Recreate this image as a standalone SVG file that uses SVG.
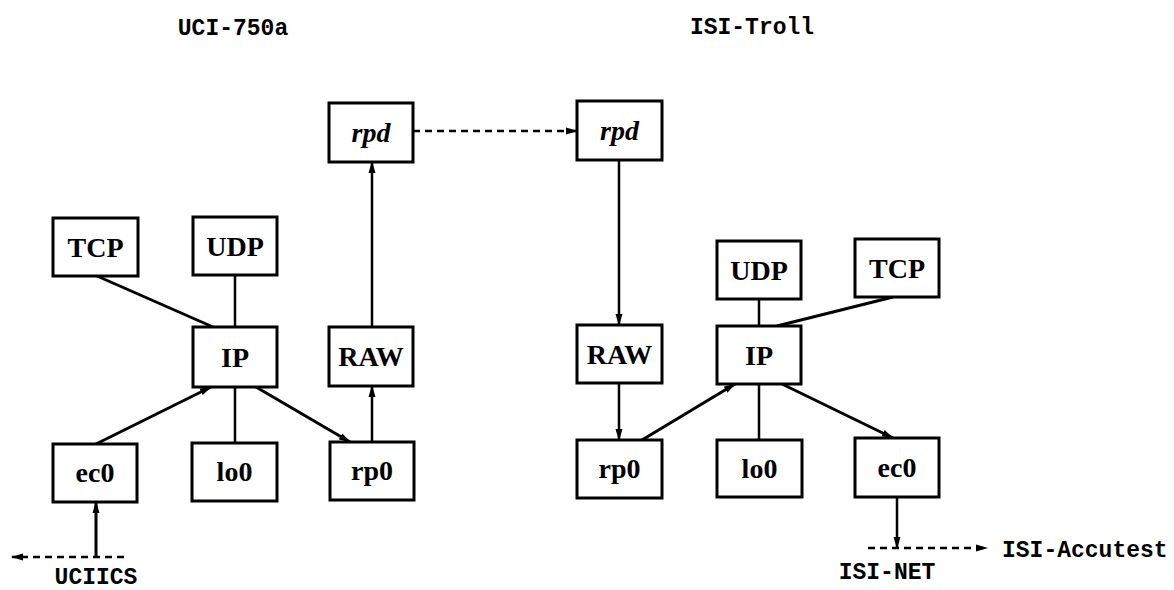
<svg xmlns="http://www.w3.org/2000/svg" width="1174" height="590" viewBox="0 0 1174 590">
<style>
.box{fill:#fff;stroke:#000;stroke-width:3}
.lbl{font-family:"Liberation Serif",serif;font-weight:bold;font-size:28px;text-anchor:middle;fill:#000}
.it{font-style:italic}
.mono{font-family:"Liberation Mono",monospace;font-weight:bold;font-size:23px;fill:#000}
.ln{stroke:#000;stroke-width:2.5;fill:none}
.th{stroke-width:3}
.dash{stroke-dasharray:7 5}
</style>
<defs>
<marker id="ah" markerUnits="userSpaceOnUse" markerWidth="12" markerHeight="8" refX="11" refY="4" orient="auto">
<path d="M0,0.5 L12,4 L0,7.5 z" fill="#000"/>
</marker>
</defs>
<rect width="1174" height="590" fill="#fff"/>
<g id="titles">
<text class="mono" x="233" y="35" text-anchor="middle">UCI-750a</text>
<text class="mono" x="752" y="34" text-anchor="middle">ISI-Troll</text>
<text class="mono" x="96" y="584" text-anchor="middle">UCIICS</text>
<text class="mono" x="887" y="579" text-anchor="middle">ISI-NET</text>
<text class="mono" x="1002" y="557">ISI-Accutest</text>
</g>
<g id="connectors">
<line class="ln dash" x1="413" y1="131" x2="577" y2="131" marker-end="url(#ah)"/>
<line class="ln" x1="372" y1="327" x2="372" y2="162" marker-end="url(#ah)"/>
<line class="ln" x1="372" y1="442" x2="372" y2="386" marker-end="url(#ah)"/>
<line class="ln th" x1="256" y1="387" x2="350" y2="442" marker-end="url(#ah)"/>
<line class="ln th" x1="96" y1="444" x2="211" y2="387" marker-end="url(#ah)"/>
<line class="ln" x1="235" y1="443" x2="235" y2="387"/>
<line class="ln" x1="235" y1="275" x2="235" y2="327"/>
<line class="ln th" x1="97" y1="276" x2="213" y2="327"/>
<line class="ln th" x1="96" y1="557" x2="96" y2="502" marker-end="url(#ah)"/>
<line class="ln dash" x1="124" y1="557" x2="12" y2="557" marker-end="url(#ah)"/>
<line class="ln" x1="619" y1="160" x2="619" y2="325" marker-end="url(#ah)"/>
<line class="ln" x1="619" y1="383" x2="619" y2="440" marker-end="url(#ah)"/>
<line class="ln th" x1="642" y1="440" x2="735" y2="384" marker-end="url(#ah)"/>
<line class="ln th" x1="782" y1="384" x2="893" y2="438" marker-end="url(#ah)"/>
<line class="ln" x1="759" y1="440" x2="759" y2="384"/>
<line class="ln" x1="759" y1="299" x2="759" y2="326"/>
<line class="ln th" x1="893" y1="297" x2="777" y2="326"/>
<line class="ln" x1="897" y1="497" x2="897" y2="548" marker-end="url(#ah)"/>
<line class="ln dash" x1="868" y1="548" x2="987" y2="548" marker-end="url(#ah)"/>
</g>
<g id="rpd-left"><rect class="box" x="329" y="103" width="84" height="59"/><text class="lbl it" x="371" y="142">rpd</text></g>
<g id="tcp-left"><rect class="box" x="53" y="218" width="85" height="58"/><text class="lbl" x="95.5" y="257">TCP</text></g>
<g id="udp-left"><rect class="box" x="193" y="217" width="84" height="58"/><text class="lbl" x="235" y="256">UDP</text></g>
<g id="ip-left"><rect class="box" x="193" y="327" width="84" height="60"/><text class="lbl" x="235" y="367">IP</text></g>
<g id="raw-left"><rect class="box" x="329" y="327" width="84" height="59"/><text class="lbl" x="371" y="366">RAW</text></g>
<g id="ec0-left"><rect class="box" x="53" y="444" width="84" height="58"/><text class="lbl" x="95" y="482">ec0</text></g>
<g id="lo0-left"><rect class="box" x="192" y="443" width="85" height="58"/><text class="lbl" x="234.5" y="481">lo0</text></g>
<g id="rp0-left"><rect class="box" x="330" y="442" width="84" height="58"/><text class="lbl" x="372" y="480">rp0</text></g>
<g id="rpd-right"><rect class="box" x="577" y="101" width="85" height="59"/><text class="lbl it" x="619.5" y="140">rpd</text></g>
<g id="udp-right"><rect class="box" x="717" y="241" width="84" height="58"/><text class="lbl" x="759" y="280">UDP</text></g>
<g id="tcp-right"><rect class="box" x="855" y="239" width="84" height="58"/><text class="lbl" x="897" y="278">TCP</text></g>
<g id="raw-right"><rect class="box" x="577" y="325" width="85" height="58"/><text class="lbl" x="619.5" y="364">RAW</text></g>
<g id="ip-right"><rect class="box" x="717" y="326" width="84" height="58"/><text class="lbl" x="759" y="365">IP</text></g>
<g id="rp0-right"><rect class="box" x="577" y="440" width="85" height="58"/><text class="lbl" x="619.5" y="478">rp0</text></g>
<g id="lo0-right"><rect class="box" x="717" y="440" width="85" height="57"/><text class="lbl" x="759.5" y="478">lo0</text></g>
<g id="ec0-right"><rect class="box" x="855" y="438" width="84" height="59"/><text class="lbl" x="897" y="477">ec0</text></g>
</svg>
